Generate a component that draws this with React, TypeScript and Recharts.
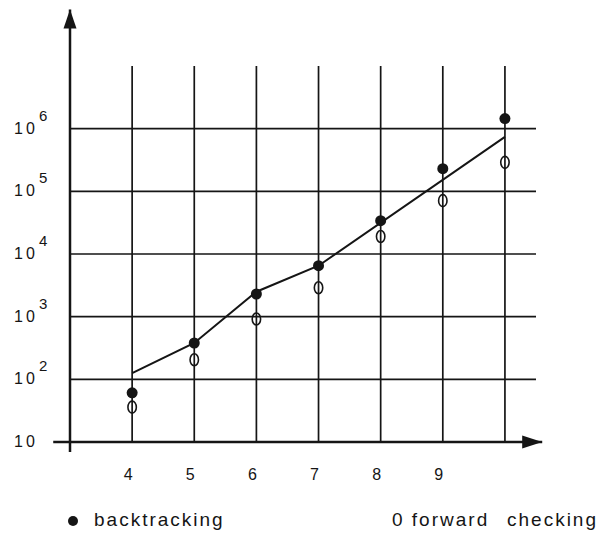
import {
  ComposedChart,
  Line,
  ReferenceDot,
  ReferenceLine,
  Scatter,
  XAxis,
  YAxis,
} from "recharts";

// problem size n, number of nodes visited (log scale)
const N = [4, 5, 6, 7, 8, 9, 10];
const BACKTRACKING = [61, 380, 2300, 6500, 34000, 230000, 1450000];
const FORWARD_CHECKING = [36, 205, 920, 2900, 19000, 71000, 290000];

// hand-drawn trend line
const FIT_N = [4, 5, 6, 7, 10];
const FIT_V = [126, 380, 2500, 6500, 740000];

const X_TICKS = [4, 5, 6, 7, 8, 9, 10];
const X_LABELS = ["4", "5", "6", "7", "8", "9", ""];
const Y_TICKS = [10, 1e2, 1e3, 1e4, 1e5, 1e6];

const SERIES_NAMES = ["backtracking", "forward", "checking"];

// axis extents (outside the plot, in data units)
const X_MIN = 3;
const X_MAX = 10.5;
const X_AXIS_START = 2.73;
const X_AXIS_TIP = 10.6;
const Y_MIN = 10;
const Y_MAX = 1e7;
const Y_AXIS_BOTTOM = 6.9;
const Y_AXIS_TIP = 8e7;

const INK = "#151515";
const FONT = "'Liberation Sans', Arial, Helvetica, sans-serif";

const btData = N.map((n, i) => ({ n, v: BACKTRACKING[i] }));
const fcData = N.map((n, i) => ({ n, v: FORWARD_CHECKING[i] }));
const fitData = FIT_N.map((n, i) => ({ n, v: FIT_V[i] }));

function YTick({ x, y, payload }: any) {
  const exp = Math.round(Math.log10(payload.value));
  return (
    <g fontFamily={FONT} fill={INK}>
      <text x={x - 56} y={y + 5} fontSize={16} letterSpacing={3}>
        10
      </text>
      {exp > 1 ? (
        <text x={x - 31} y={y - 8} fontSize={15}>
          {exp}
        </text>
      ) : null}
    </g>
  );
}

function XTick({ x, y, payload }: any) {
  const idx = X_TICKS.indexOf(payload.value);
  return (
    <text x={x - 4} y={y + 38} textAnchor="middle" fontFamily={FONT} fontSize={16} fill={INK}>
      {X_LABELS[idx]}
    </text>
  );
}

const filledDot = (p: any) => <circle cx={p.cx} cy={p.cy} r={5.5} fill={INK} />;
const openDot = (p: any) => (
  <ellipse cx={p.cx} cy={p.cy} rx={4.2} ry={6} fill="none" stroke={INK} strokeWidth={1.6} />
);
const upArrow = (p: any) => (
  <polygon points={`${p.cx},${p.cy} ${p.cx - 6.5},${p.cy + 19} ${p.cx + 6.5},${p.cy + 19}`} fill={INK} />
);
const rightArrow = (p: any) => (
  <polygon points={`${p.cx},${p.cy} ${p.cx - 20},${p.cy - 6.5} ${p.cx - 20},${p.cy + 6.5}`} fill={INK} />
);

export default function App() {
  return (
    <div style={{ position: "absolute", left: 0, top: 0, width: 602, height: 534, background: "#fff" }}>
      <ComposedChart width={602} height={534} margin={{ top: 66, right: 66, bottom: 54, left: 14 }}>
        <XAxis
          type="number"
          dataKey="n"
          domain={[X_MIN, X_MAX]}
          ticks={X_TICKS}
          allowDataOverflow
          axisLine={false}
          tickLine={false}
          tickSize={0}
          tickMargin={0}
          height={38}
          interval={0}
          tick={<XTick />}
        />
        <YAxis
          type="number"
          dataKey="v"
          scale="log"
          domain={[Y_MIN, Y_MAX]}
          ticks={Y_TICKS}
          allowDataOverflow
          axisLine={false}
          tickLine={false}
          tickSize={0}
          tickMargin={0}
          width={56}
          interval={0}
          tick={<YTick />}
        />
        {X_TICKS.map((t) => (
          <ReferenceLine key={`gx${t}`} x={t} stroke={INK} strokeWidth={1.7} />
        ))}
        {Y_TICKS.slice(1).map((t) => (
          <ReferenceLine key={`gy${t}`} y={t} stroke={INK} strokeWidth={1.7} />
        ))}
        <ReferenceLine
          segment={[
            { x: X_MIN, y: Y_AXIS_BOTTOM },
            { x: X_MIN, y: Y_AXIS_TIP },
          ]}
          stroke={INK}
          strokeWidth={2.5}
          ifOverflow="visible"
        />
        <ReferenceLine
          segment={[
            { x: X_AXIS_START, y: Y_MIN },
            { x: X_AXIS_TIP, y: Y_MIN },
          ]}
          stroke={INK}
          strokeWidth={2.5}
          ifOverflow="visible"
        />
        <ReferenceDot x={X_MIN} y={Y_AXIS_TIP} ifOverflow="visible" shape={upArrow} />
        <ReferenceDot x={X_AXIS_TIP} y={Y_MIN} ifOverflow="visible" shape={rightArrow} />
        <Line
          data={fitData}
          dataKey="v"
          type="linear"
          stroke={INK}
          strokeWidth={2}
          dot={false}
          activeDot={false}
          isAnimationActive={false}
        />
        <Scatter name="backtracking" data={btData} shape={filledDot} isAnimationActive={false} />
        <Scatter name="forward checking" data={fcData} shape={openDot} isAnimationActive={false} />
      </ComposedChart>
      <svg
        width={602}
        height={34}
        style={{ position: "absolute", left: 0, top: 500 }}
        fontFamily={FONT}
        fontSize={19}
        fill={INK}
      >
        <circle cx={73} cy={21} r={5} fill={INK} />
        <text x={94} y={26} letterSpacing={2}>
          {SERIES_NAMES[0]}
        </text>
        <text x={392} y={26} letterSpacing={2}>
          {"0 " + SERIES_NAMES[1]}
        </text>
        <text x={507} y={26} letterSpacing={2}>
          {SERIES_NAMES[2]}
        </text>
      </svg>
    </div>
  );
}
